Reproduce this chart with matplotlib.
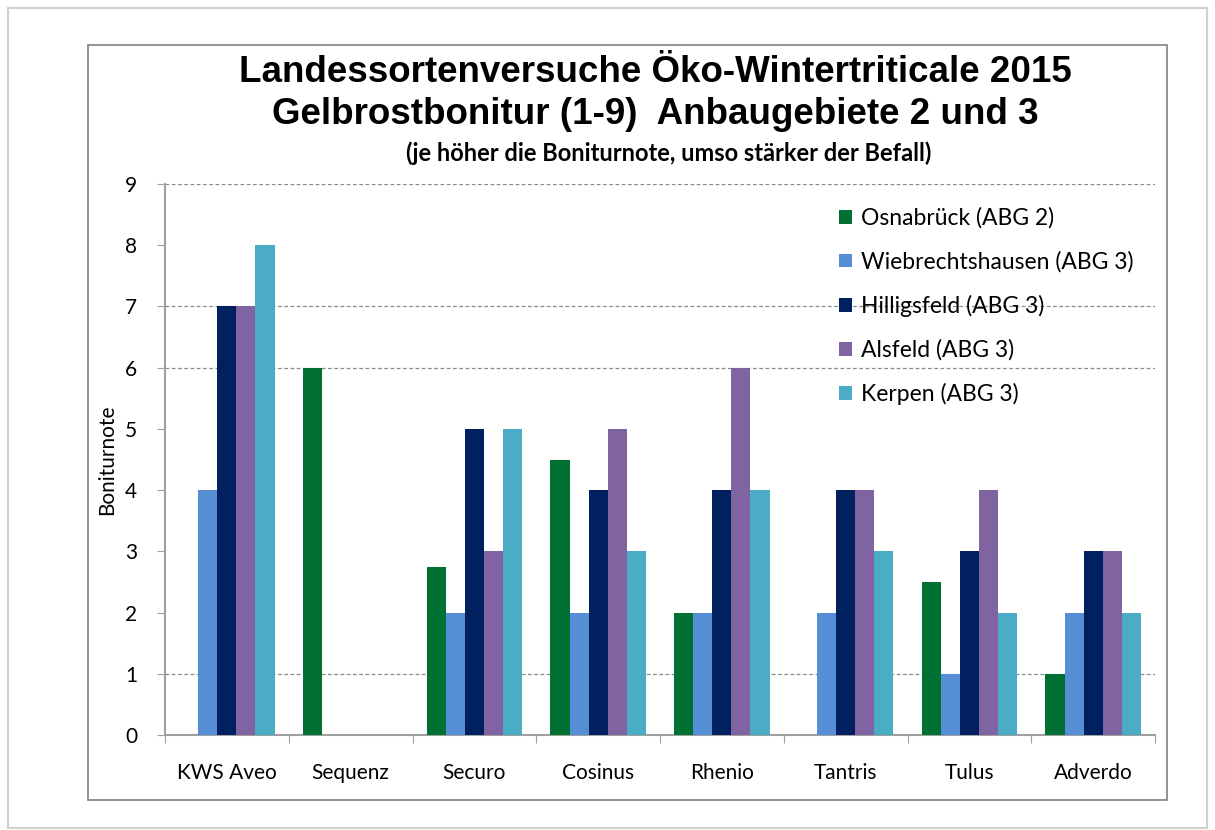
import numpy as np
import matplotlib
matplotlib.use('Agg')
import matplotlib.pyplot as plt
from matplotlib.patches import Rectangle

sorten = ['KWS Aveo', 'Sequenz', 'Securo', 'Cosinus', 'Rhenio', 'Tantris', 'Tulus', 'Adverdo']
osnabrueck = [np.nan, 6, 2.75, 4.5, 2, np.nan, 2.5, 1]
wiebrechtshausen = [4, np.nan, 2, 2, 2, 2, 1, 2]
hilligsfeld = [7, np.nan, 5, 4, 4, 4, 3, 3]
alsfeld = [7, np.nan, 3, 5, 6, 4, 4, 3]
kerpen = [8, np.nan, 5, 3, 4, 3, 2, 2]
labels = ['Osnabrück (ABG 2)', 'Wiebrechtshausen (ABG 3)', 'Hilligsfeld (ABG 3)',
          'Alsfeld (ABG 3)', 'Kerpen (ABG 3)']
colors = ['#007033', '#558ED5', '#002060', '#8064A2', '#4BACC6']

fig = plt.figure(figsize=(12.15, 8.3), dpi=100)
# outer frame and chart frame
fig.patches.append(Rectangle((8/1215, 0.002), 1199/1215, 1-10/830, transform=fig.transFigure,
                             fill=False, edgecolor='#d0d0d0', linewidth=1.5))
fig.patches.append(Rectangle((88/1215, 1-800/830), 1079/1215, 755/830, transform=fig.transFigure,
                             fill=False, edgecolor='#808080', linewidth=1.2))

ax = fig.add_axes([165/1215, 1-735/830, 990/1215, 551/830])
series = [osnabrueck, wiebrechtshausen, hilligsfeld, alsfeld, kerpen]
x = np.arange(len(sorten))
w = 0.154
for i, (vals, lab, col) in enumerate(zip(series, labels, colors)):
    ax.bar(x + (i - 2) * w, vals, w, color=col, label=lab, zorder=3)

ax.set_xlim(-0.5, len(sorten) - 0.5)
ax.set_ylim(0, 9)
ax.set_yticks(range(10))
for g in [1, 6, 7, 9]:
    ax.axhline(g, color='#8c8c8c', linestyle=(0, (3, 2)), linewidth=0.9, zorder=1)

ax.set_xticks(np.arange(len(sorten) + 1) - 0.5)
ax.set_xticklabels([])
ax.set_xticks(x, minor=True)
ax.set_xticklabels(sorten, minor=True, fontsize=15, family='Lato')
ax.tick_params(axis='x', which='minor', length=0, pad=20)
ax.tick_params(axis='x', which='major', length=6, color='#a0a0a0')
ax.tick_params(axis='y', length=6, color='#a0a0a0', labelsize=15, pad=14)
for t in ax.get_yticklabels():
    t.set_family('Lato')
for s in ['top', 'right']:
    ax.spines[s].set_visible(False)
for s in ['left', 'bottom']:
    ax.spines[s].set_color('#a0a0a0')
    ax.spines[s].set_linewidth(1.5)
ax.set_ylabel('Boniturnote', fontsize=15, family='Lato', labelpad=6)

leg = ax.legend(loc='upper left', bbox_to_anchor=(0.66, 0.995), frameon=False,
                prop={'family': 'Lato', 'size': 16.5}, handlelength=0.55, handleheight=0.55,
                handletextpad=0.4, labelspacing=0.97)

fig.text(0.539, 1-73/830, 'Landessortenversuche Öko-Wintertriticale 2015',
         ha='center', va='center', fontsize=26.5, fontweight='bold', family='Liberation Sans')
fig.text(0.539, 1-115/830, 'Gelbrostbonitur (1-9)  Anbaugebiete 2 und 3',
         ha='center', va='center', fontsize=26.5, fontweight='bold', family='Liberation Sans')
fig.text(0.55, 1-153/830, '(je höher die Boniturnote, umso stärker der Befall)',
         ha='center', va='center', fontsize=17, fontweight='bold', family='Lato')

fig.savefig('out.png', dpi=100)
